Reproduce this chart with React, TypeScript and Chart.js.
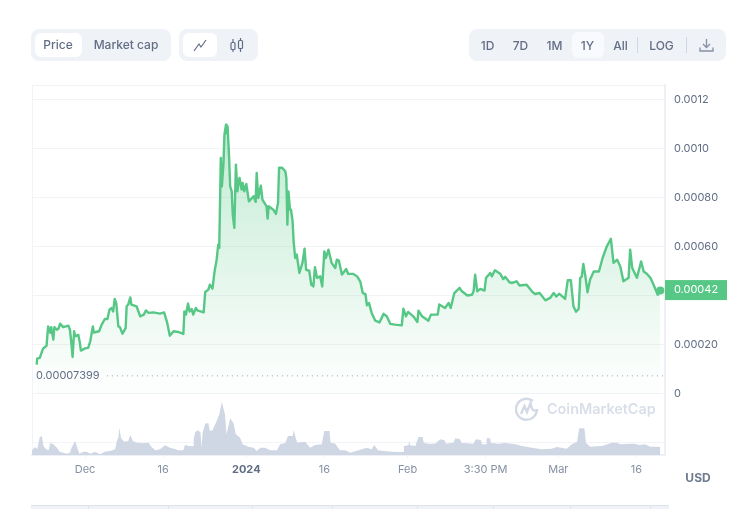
import { useEffect, useRef } from 'react';
import { Chart, registerables } from 'chart.js';

Chart.register(...registerables);

const FONT = 'Inter, "Noto Sans", sans-serif';
const GREEN = '#56c785';
const GRID = '#f1f3f7';

// days counted from Dec 1
const priceDays = [
  -9.3, -9.2, -8.7, -8.1, -7.7, -7.4, -7.1, -6.7, -6.5, -6.1, -5.9, -5.4, -5.1, -4.8, -4.2, -3.2, -2.9, -2.6, -2.4,
  -2.1, -1.9, -1.3, -1.0, -0.8, 0, 0.6, 1.0, 1.5, 1.7, 2.7, 3.2, 3.8, 4.3, 4.7, 5.1, 5.4, 5.7, 6.0, 6.4,
  6.7, 7.2, 7.8, 8.0, 8.3, 8.7, 8.9, 9.9, 10.6, 11.3, 11.7, 12.2, 13.1, 14.4, 15.2, 15.8, 16.3, 17.0, 17.9, 18.9,
  19.1, 19.4, 19.8, 20.1, 20.5, 20.8, 21.3, 21.6, 22.8, 23.1, 23.7, 24.0, 24.5, 24.9, 25.3, 25.6, 25.8, 26.1, 26.3, 26.6,
  26.8, 27.1, 27.2, 27.4, 27.7, 27.9, 28.2, 28.4, 28.7, 28.8, 29.0, 29.3, 29.5, 29.7, 30.1, 30.3, 30.6, 31.0, 31.5, 32.4,
  32.8, 33.0, 33.3, 33.8, 34.1, 34.9, 35.1, 35.3, 36.2, 36.7, 37.1, 37.3, 37.9, 38.5, 38.7, 38.9, 39.1, 39.4, 39.6, 39.9,
  40.1, 40.4, 40.7, 41.2, 41.8, 42.2, 42.5, 43.1, 43.5, 43.9, 44.2, 44.6, 45.2, 45.6, 46.0, 46.3, 46.8, 47.4, 48.1, 48.4,
  48.8, 49.4, 50.2, 50.6, 51.6, 52.3, 52.9, 53.4, 53.9, 54.2, 54.6, 55.1, 55.8, 56.6, 57.4, 58.0, 58.7, 59.6, 60.9, 61.2,
  61.7, 62.1, 63.1, 63.9, 64.1, 64.8, 66.0, 66.5, 67.8, 68.1, 69.2, 69.9, 70.3, 71.0, 72.0, 72.4, 73.5, 74.4, 74.7, 75.0,
  75.4, 76.0, 76.8, 77.1, 77.9, 78.2, 78.8, 79.8, 80.4, 80.8, 81.6, 82.0, 83.0, 83.5, 84.9, 85.9, 86.5, 87.4, 88.5, 89.4,
  90.1, 90.6, 91.2, 92.3, 92.8, 93.4, 93.9, 94.4, 94.9, 95.2, 95.5, 95.8, 96.2, 96.6, 97.1, 97.8, 98.8, 99.5, 100.3, 101.1,
  101.6, 102.3, 102.9, 103.5, 104.5, 104.8, 105.2, 106.1, 106.9, 107.4, 108.0, 108.7, 109.3, 110.1, 110.6,
];

const priceValues = [
  0.00012, 0.000144, 0.000147, 0.000184, 0.000192, 0.000197, 0.000276, 0.00025, 0.000273, 0.000222, 0.000273, 0.000262, 0.000267, 0.000287, 0.000273, 0.000279, 0.000262, 0.000201, 0.000151,
  0.000256, 0.000235, 0.000242, 0.000209, 0.000177, 0.000186, 0.000188, 0.000215, 0.000276, 0.000251, 0.000256, 0.000283, 0.000306, 0.000306, 0.000344, 0.000351, 0.000337, 0.000388, 0.000371, 0.000276,
  0.000273, 0.000246, 0.000269, 0.000358, 0.000365, 0.000394, 0.000365, 0.000358, 0.000317, 0.000324, 0.000341, 0.000331, 0.000333, 0.000328, 0.000333, 0.00029, 0.000238, 0.000256, 0.000253, 0.000245,
  0.000337, 0.000324, 0.000369, 0.000337, 0.000347, 0.000324, 0.000351, 0.000341, 0.000333, 0.000416, 0.000426, 0.000446, 0.00043, 0.0005, 0.000548, 0.000609, 0.000596, 0.000963, 0.000847, 0.000936,
  0.001058, 0.001099, 0.001065, 0.001092, 0.000963, 0.000847, 0.000827, 0.000732, 0.000678, 0.000678, 0.000936, 0.000827, 0.000861, 0.000882, 0.000834, 0.000861, 0.000827, 0.000857, 0.000786, 0.000807,
  0.000784, 0.000902, 0.0008, 0.00085, 0.000793, 0.000766, 0.000716, 0.000766, 0.000752, 0.000735, 0.00078, 0.000923, 0.000923, 0.000909, 0.000882, 0.000691, 0.000827, 0.000752, 0.000752, 0.000705,
  0.000623, 0.000555, 0.000569, 0.000494, 0.000535, 0.000593, 0.000507, 0.000503, 0.000446, 0.000439, 0.000517, 0.000474, 0.00048, 0.000439, 0.000582, 0.000555, 0.000589, 0.000535, 0.000514, 0.000548,
  0.000544, 0.000487, 0.00051, 0.00049, 0.00049, 0.00048, 0.00046, 0.000412, 0.000408, 0.000362, 0.000371, 0.000331, 0.000299, 0.000292, 0.000327, 0.000317, 0.000286, 0.000283, 0.00028, 0.000348,
  0.000317, 0.000335, 0.000317, 0.000294, 0.00034, 0.000317, 0.000299, 0.000324, 0.000324, 0.000365, 0.000351, 0.000371, 0.000351, 0.000412, 0.000433, 0.00042, 0.000402, 0.000405, 0.000419, 0.000487,
  0.000419, 0.000429, 0.000422, 0.000474, 0.000494, 0.00048, 0.000505, 0.000491, 0.000469, 0.000478, 0.000456, 0.000453, 0.00046, 0.000443, 0.000446, 0.000419, 0.000408, 0.000412, 0.000382, 0.000392,
  0.000412, 0.000398, 0.000409, 0.000388, 0.000464, 0.000464, 0.000358, 0.000336, 0.000347, 0.000474, 0.000479, 0.000531, 0.00048, 0.000415, 0.000467, 0.0005, 0.0005, 0.000555, 0.000602, 0.000633,
  0.000535, 0.000548, 0.000521, 0.00046, 0.000474, 0.000589, 0.000514, 0.000474, 0.000541, 0.0005, 0.000491, 0.000474, 0.000446, 0.000405, 0.000422,
];

const volumeDays = [
  -10.2, -9.6, -9.2, -8.7, -8.3, -8.0, -7.5, -7.0, -6.7, -6.1, -5.4, -4.9, -4.2, -3.5, -2.9, -2.6, -1.9, -1.5, -1.1, -0.3,
  0.3, 1.0, 1.9, 2.9, 3.8, 4.8, 5.8, 6.1, 6.4, 6.6, 6.9, 7.5, 8.3, 8.7, 9.2, 9.9, 10.9, 12.2, 12.8, 13.5,
  14.4, 15.4, 16.3, 17.3, 17.9, 18.9, 19.2, 20.2, 20.8, 20.9, 21.2, 21.8, 22.2, 22.4, 22.6, 23.1, 23.7, 24.0, 24.5, 25.3,
  25.8, 26.3, 26.9, 27.2, 27.9, 28.5, 29.0, 29.8, 30.3, 31.4, 32.4, 33.0, 33.7, 34.6, 35.6, 36.9, 37.5, 38.5, 39.0, 39.9,
  40.1, 40.4, 40.8, 41.7, 42.3, 43.3, 44.2, 45.5, 46.0, 47.0, 47.2, 48.1, 49.0, 50.0, 51.0, 51.3, 53.2, 54.2, 55.1, 55.6,
  56.3, 57.4, 59.6, 61.2, 61.3, 62.2, 62.3, 62.5, 63.5, 64.1, 64.9, 65.1, 66.0, 67.3, 68.3, 69.1, 69.4, 70.8, 71.2, 72.1,
  72.4, 74.7, 75.1, 76.1, 76.3, 77.1, 77.2, 77.9, 78.0, 79.5, 80.8, 82.7, 84.0, 85.9, 87.8, 89.7, 90.7, 92.6, 93.6, 94.6,
  95.0, 96.0, 96.3, 97.1, 99.4, 101.3, 102.2, 102.9, 104.8, 105.8, 106.4, 107.7, 108.7, 110.6,
];

const volumeValues = [
  4.7, 8, 5.7, 18, 19, 9, 5.7, 4.7, 12, 10.7, 7.3, 3.3, 2.3, 1.3, 2.3, 7.3, 14, 7.3, 1.3, 3.3,
  3.3, 1.3, 3.3, 0.7, 3.3, 4, 5.7, 14, 17.3, 27.3, 17.3, 13.3, 14, 20, 14, 12.3, 11.7, 12.3, 8, 4.7,
  5.7, 9.7, 7.3, 6, 4.7, 4.7, 10, 8.7, 9, 16.7, 23.3, 24.7, 22.3, 7.3, 22.3, 31.3, 32, 24, 24.7, 34,
  40.7, 53, 40.7, 20.7, 36.7, 32.3, 20.7, 17.3, 10.7, 8.3, 7.3, 4, 7.3, 7.3, 4.7, 4.7, 10.7, 12, 19, 19,
  24.7, 19, 12.3, 13, 13.3, 7.3, 10, 10.7, 24, 24, 12.3, 11.3, 4.7, 4.7, 2.3, 2.7, 5.7, 7.3, 5.7, 10,
  4.7, 4, 3, 3, 9, 9.7, 14, 9.7, 9, 18, 18, 12.3, 11.3, 11.3, 15.7, 14.7, 11.3, 12.3, 16.7, 15.7,
  12, 11.3, 15.7, 15, 10.7, 10.7, 16.7, 16.7, 12, 11.3, 12, 10.7, 9, 7.3, 5.7, 6.3, 8, 6.3, 10.7, 13.3,
  26.7, 26.7, 12.3, 8.3, 9, 12.3, 12.3, 10.7, 11.3, 11.3, 10, 10.7, 8.3, 8.3,
];

const xTickDays = [0, 15, 31, 46, 62, 77, 91, 106];
const xTickLabels = ['Dec', '16', '2024', '16', 'Feb', '3:30 PM', 'Mar', '16'];
const yTickValues = [-0.0002, 0, 0.0002, 0.0004, 0.0006, 0.0008, 0.001, 0.0012];
const yTickLabels = ['', '0', '0.00020', '', '0.00060', '0.00080', '0.0010', '0.0012'];
const lowestPrice = 0.00007399;
const lowestLabel = '0.00007399';
const currentPrice = 0.00042;
const currentLabel = '0.00042';

const yMin = -0.000249;
const yMax = 0.001261;

const textStyle = { color: '#616e85', fontFamily: FONT, fontSize: 12, fontWeight: 500 };

function Box({ x, y, w, h, bg, r = 0 }: any) {
  return <div style={{ position: 'absolute', left: x, top: y, width: w, height: h, background: bg, borderRadius: r }} />;
}

function Label({ cx, cy, text, style }: any) {
  return (
    <div style={{ position: 'absolute', left: cx - 50, width: 100, top: cy - 10, height: 20, lineHeight: '20px', textAlign: 'center', whiteSpace: 'nowrap', ...textStyle, ...style }}>
      {text}
    </div>
  );
}

const overlayPlugin = {
  id: 'overlay',
  afterDraw(chart: any) {
    const { ctx, scales } = chart;
    const tagY = scales.y.getPixelForValue(currentPrice);
    ctx.save();
    ctx.fillStyle = GREEN;
    ctx.fillRect(665, tagY - 11, 62, 20);
    ctx.fillStyle = '#ffffff';
    ctx.font = `400 11px ${FONT}`;
    ctx.textAlign = 'center';
    ctx.textBaseline = 'middle';
    ctx.fillText(currentLabel, 696, tagY - 1);
    ctx.fillStyle = '#616e85';
    ctx.font = `400 11px ${FONT}`;
    ctx.textAlign = 'left';
    ctx.fillText(lowestLabel, 36, scales.y.getPixelForValue(lowestPrice));
    ctx.restore();
  },
};

export default function App() {
  const chartRef = useRef<HTMLCanvasElement>(null);

  useEffect(() => {
    if (!chartRef.current) return;

    const chart = new Chart(chartRef.current, {
      type: 'line',
      data: {
        datasets: [
          {
            data: priceDays.map((d, i) => ({ x: d, y: priceValues[i] })),
            yAxisID: 'y',
            borderColor: GREEN,
            borderWidth: 2.4,
            borderJoinStyle: 'round',
            tension: 0,
            fill: 'origin',
            backgroundColor: (c: any) => {
              const area = c.chart.chartArea;
              if (!area) return 'transparent';
              const g = c.chart.ctx.createLinearGradient(0, 125, 0, 378);
              g.addColorStop(0, 'rgba(86,199,133,0.36)');
              g.addColorStop(1, 'rgba(86,199,133,0.02)');
              return g;
            },
            pointRadius: (c: any) => (c.dataIndex === priceDays.length - 1 ? 4 : 0),
            pointBackgroundColor: GREEN,
            pointBorderWidth: 0,
          },
          {
            data: [
              { x: 4.2, y: lowestPrice },
              { x: 111.4, y: lowestPrice },
            ],
            yAxisID: 'y',
            borderColor: '#9aa3b4',
            borderWidth: 1,
            borderDash: [1, 4],
            pointRadius: 0,
            fill: false,
          },
          {
            data: volumeDays.map((d, i) => ({ x: d, y: volumeValues[i] })),
            yAxisID: 'y2',
            borderWidth: 0,
            tension: 0,
            fill: 'origin',
            backgroundColor: '#cfd6e4',
            pointRadius: 0,
          },
        ],
      },
      options: {
        responsive: false,
        animation: false,
        events: [],
        layout: { padding: { left: 32, top: 85 } },
        plugins: { legend: { display: false }, tooltip: { enabled: false } },
        scales: {
          x: {
            type: 'linear',
            min: -10.2,
            max: 111.5,
            afterBuildTicks: (s: any) => {
              s.ticks = xTickDays.map((value) => ({ value }));
            },
            afterFit: (s: any) => {
              s.height = 54;
            },
            grid: { drawOnChartArea: false, tickLength: 3, color: GRID },
            border: { color: '#eef0f5', width: 2 },
            ticks: {
              autoSkip: false,
              maxRotation: 0,
              padding: 5,
              color: (c: any) => (c.tick?.value === 31 ? '#616e85' : '#8490a3'),
              font: (c: any) => ({ family: FONT, size: 11, weight: c.tick?.value === 31 ? 700 : 400 }),
              callback: (v: any) => xTickLabels[xTickDays.indexOf(v)],
            },
          },
          y: {
            position: 'right',
            min: yMin,
            max: yMax,
            afterBuildTicks: (s: any) => {
              s.ticks = [...yTickValues, yMax].map((value) => ({ value }));
            },
            afterFit: (s: any) => {
              s.width = 90;
            },
            grid: { color: GRID, drawTicks: false },
            border: { color: '#eef0f5', width: 2 },
            ticks: {
              padding: 9,
              color: '#616e85',
              font: { family: FONT, size: 11 },
              callback: (v: any) => {
                const i = yTickValues.indexOf(v);
                return i < 0 ? '' : yTickLabels[i];
              },
            },
          },
          y2: {
            position: 'left',
            min: 0,
            max: 370,
            afterFit: (s: any) => {
              s.width = 0;
            },
            grid: { display: false },
            border: { color: '#f1f3f7', width: 1 },
            ticks: { display: false },
          },
        },
      },
      plugins: [overlayPlugin],
    } as any);

    return () => {
      chart.destroy();
    };
  }, []);

  return (
    <div style={{ position: 'absolute', left: 0, top: 0, width: 755, height: 509, overflow: 'hidden', background: '#fff' }}>
      <canvas ref={chartRef} width={755} height={509} style={{ position: 'absolute', left: 0, top: 0 }} />

      <Box x={31} y={29} w={140} h={32} bg="#eff2f7" r={8} />
      <Box x={35} y={33} w={47} h={24} bg="#fff" r={6} />
      <Label cx={58} cy={45} text="Price" />
      <Label cx={126} cy={45} text="Market cap" />

      <Box x={179} y={29} w={79} h={32} bg="#eff2f7" r={8} />
      <Box x={183} y={33} w={34} h={24} bg="#fff" r={6} />
      <svg style={{ position: 'absolute', left: 190, top: 36 }} width="20" height="18" fill="none" stroke="#616e85" strokeWidth="1.2">
        <path d="M4 15 L9 8 L11 11 L16 4" />
      </svg>
      <svg style={{ position: 'absolute', left: 228, top: 36 }} width="18" height="18" fill="none" stroke="#616e85" strokeWidth="1.2">
        <rect x="3" y="6.5" width="4" height="7" rx="1" />
        <path d="M5 3 V6.5 M5 13.5 V16" />
        <rect x="10.5" y="4.5" width="4" height="8" rx="1" />
        <path d="M12.5 2 V4.5 M12.5 12.5 V16" />
      </svg>

      <Box x={469} y={29} w={257} h={32} bg="#eff2f7" r={8} />
      <Box x={572} y={32} w={32} h={26} bg="#f8fafd" r={6} />
      <Label cx={487.5} cy={45.5} text="1D" />
      <Label cx={520.5} cy={45.5} text="7D" />
      <Label cx={554.5} cy={45.5} text="1M" />
      <Label cx={587.5} cy={45.5} text="1Y" />
      <Label cx={620.5} cy={45.5} text="All" />
      <Box x={637} y={37} w={1} h={16} bg="#cfd6e4" />
      <Label cx={661.5} cy={45.5} text="LOG" />
      <Box x={686} y={37} w={1} h={16} bg="#cfd6e4" />
      <svg style={{ position: 'absolute', left: 699, top: 38 }} width="15" height="15" fill="none" stroke="#8490a3" strokeWidth="1.3">
        <path d="M7.5 1 V9 M4 6 L7.5 9.5 L11 6 M1 9.5 V13 H14 V9.5" />
      </svg>

      <svg style={{ position: 'absolute', left: 515, top: 397 }} width="24" height="24" fill="none" stroke="#d3d9e5" strokeWidth="2.4">
        <path d="M22 12 A10.5 10.5 0 1 1 18 4" />
        <path d="M6 17 L9.5 9 L12 15 L15.5 6 C16.5 12 18 15 22 13" />
      </svg>
      <div style={{ position: 'absolute', left: 547, top: 399, height: 20, lineHeight: '20px', color: '#d9dfe9', fontFamily: FONT, fontSize: 14.4, fontWeight: 600, whiteSpace: 'nowrap' }}>
        CoinMarketCap
      </div>

      <Label cx={698} cy={478} text="USD" style={{ fontSize: 12, fontWeight: 700, color: '#707b90' }} />

      <Box x={31} y={505} w={638} h={4} bg="#eff2f7" />
      <Box x={31} y={505} w={638} h={1} bg="#dfe3ec" />
      {[88, 168, 252, 332, 417, 493, 570, 650].map((x) => (
        <Box key={x} x={x} y={506} w={1} h={3} bg="#dfe3ec" />
      ))}
    </div>
  );
}
